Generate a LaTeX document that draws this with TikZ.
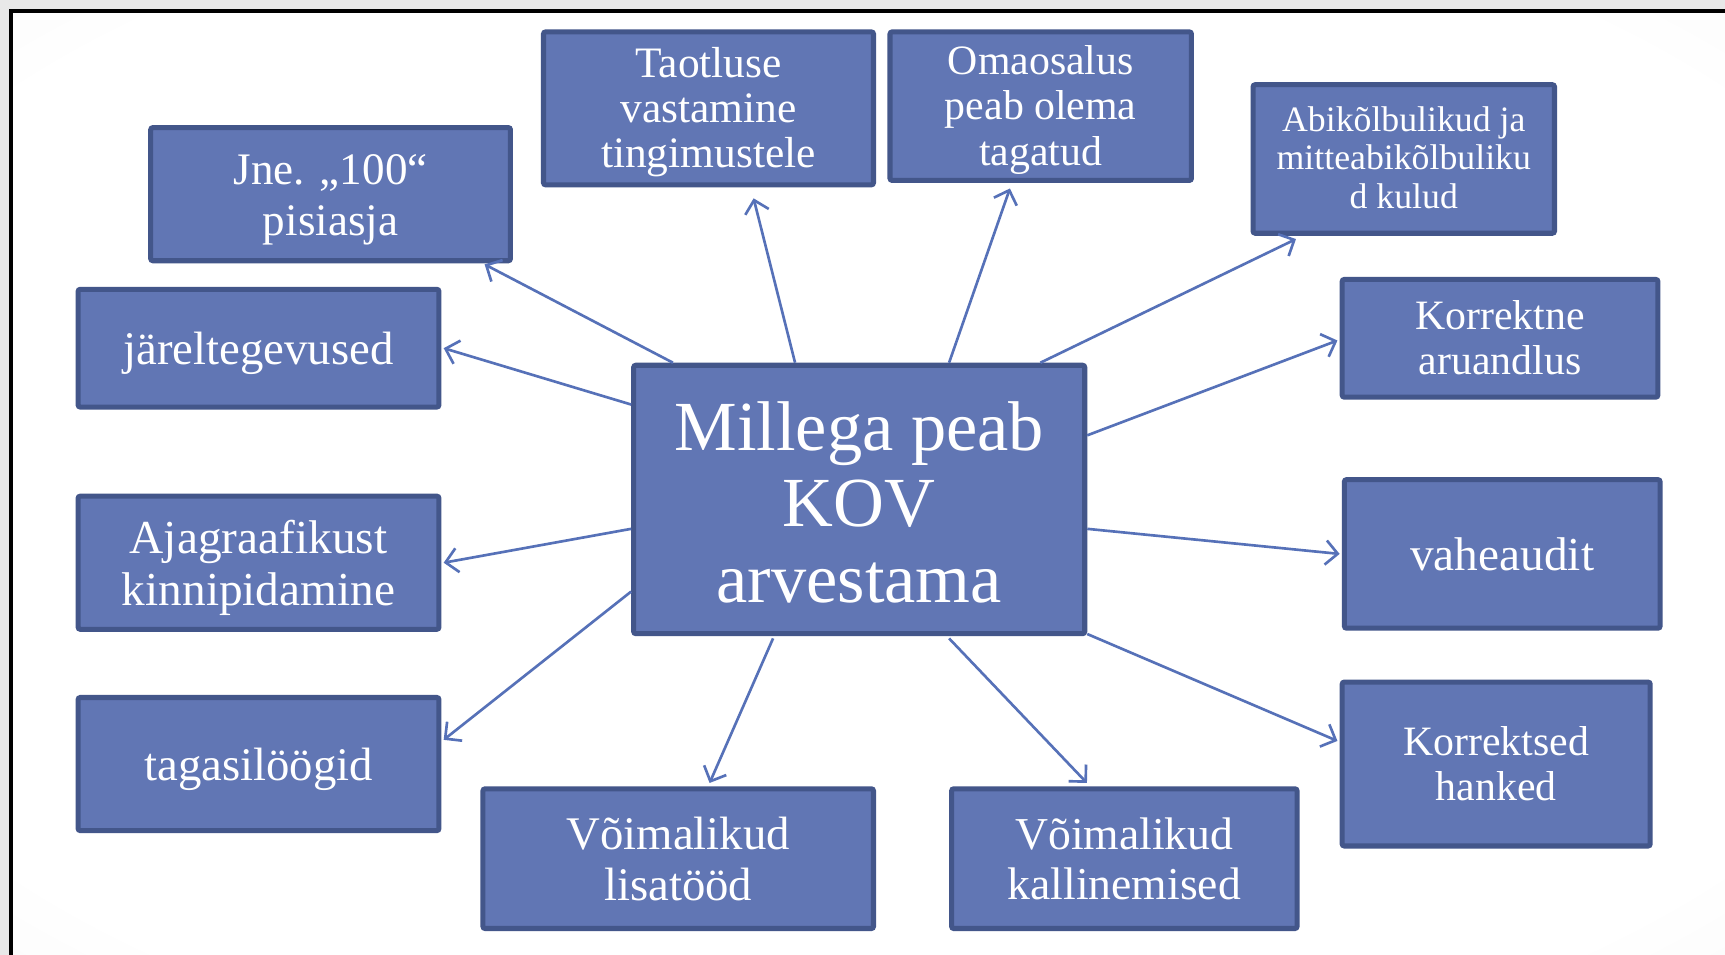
\documentclass[tikz,border=0pt]{standalone}
\usepackage{fontspec}
\setmainfont{Liberation Serif}
\usetikzlibrary{arrows.meta,calc}
\definecolor{boxfill}{HTML}{6176B4}
\definecolor{boxline}{HTML}{43568A}
\definecolor{arrowcol}{HTML}{5671B8}
\pgfdeclareradialshading{bgshade}{\pgfpoint{0bp}{0bp}}{color(0bp)=(white); color(32bp)=(white); color(72bp)=(black!13)}
\newcommand{\boxtext}[1]{\raisebox{\dimexpr-0.25em-1pt\relax}[0pt][0pt]{\begin{tabular}{@{}c@{}}#1\end{tabular}}}
\begin{document}
\begin{tikzpicture}[x=1pt,y=-1pt,
  box/.style={draw=boxline, fill=boxfill, line width=4.6pt, rounded corners=2pt, text=white, inner sep=0pt},
  ftiny/.style={font=\fontsize{32.5}{35}\selectfont},
  fsmall/.style={font=\fontsize{38}{41}\selectfont},
  fmed/.style={font=\fontsize{42.5}{46}\selectfont},
  fbig/.style={font=\fontsize{64}{69}\selectfont},
  arr/.style={draw=arrowcol, line width=2.4pt, -{Straight Barb[length=11pt,width=22pt]}}
]
\useasboundingbox (0,0) rectangle (1568,868);
\fill[black!9] (0,0) rectangle (1568,868);
\shade[shading=bgshade] (10,10) rectangle (1568,868);
\draw[black, line width=3pt] (10,868) -- (10,10) -- (1568,10);

\node[box, fbig, minimum width=410pt, minimum height=244pt] (c) at (781,454) {\boxtext{Millega peab\\KOV\\arvestama}};

\node[box, font=\fontsize{41}{46}\selectfont, minimum width=327pt, minimum height=121pt] (j) at (300.5,176.5) {\boxtext{Jne. „100“\\pisiasja}};
\node[box, font=\fontsize{39.5}{41}\selectfont, minimum width=300pt, minimum height=139pt] (t) at (644,98.5) {\boxtext{Taotluse\\vastamine\\tingimustele}};
\node[box, fsmall, minimum width=274pt, minimum height=135pt] (o) at (946,96.5) {\boxtext{Omaosalus\\peab olema\\tagatud}};
\node[box, ftiny, minimum width=274pt, minimum height=135pt] (a) at (1276,144.5) {\boxtext{Abikõlbulikud ja\\mitteabikõlbuliku\\d kulud}};
\node[box, fmed, minimum width=328pt, minimum height=107pt] (jr) at (235,316.5) {\boxtext{järeltegevused}};
\node[box, fsmall, minimum width=287pt, minimum height=107pt] (k) at (1363.5,307.5) {\boxtext{Korrektne\\aruandlus}};
\node[box, font=\fontsize{43}{47}\selectfont, minimum width=328pt, minimum height=121pt] (ag) at (235,511.5) {\boxtext{Ajagraafikust\\kinnipidamine}};
\node[box, font=\fontsize{43}{46}\selectfont, minimum width=287pt, minimum height=135pt] (v) at (1365.5,503.5) {\boxtext{vaheaudit}};
\node[box, fmed, minimum width=328pt, minimum height=121pt] (tg) at (235,694.5) {\boxtext{tagasilöögid}};
\node[box, fmed, minimum width=355pt, minimum height=127pt] (vl) at (616.5,780.5) {\boxtext{Võimalikud\\lisatööd}};
\node[box, font=\fontsize{41.5}{46}\selectfont, minimum width=314pt, minimum height=127pt] (vk) at (1022,780.5) {\boxtext{Võimalikud\\kallinemised}};
\node[box, fsmall, minimum width=280pt, minimum height=149pt] (kh) at (1360,694.5) {\boxtext{Korrektsed\\hanked}};

\draw[arr] ($(c.north west)+(38,0)$) -- ($(j.south)+(140,1)$);
\draw[arr] ($(c.north west)+(149,0)$) -- ($(t.south)+(41,10)$);
\draw[arr] ($(c.north west)+(289,0)$) -- ($(o.south)+(-28,5)$);
\draw[arr] ($(c.north west)+(372,0)$) -- ($(a.south)+(-98,3)$);
\draw[arr] ($(c.north west)+(0,38)$) -- ($(jr.east)+(2,0)$);
\draw[arr] ($(c.north east)+(0,66)$) -- ($(k.west)+(-2,2)$);
\draw[arr] ($(c.north west)+(0,151)$) -- ($(ag.east)+(2,0)$);
\draw[arr] ($(c.north east)+(0,151)$) -- ($(v.west)+(-2,0)$);
\draw[arr] ($(c.north west)+(0,208)$) -- ($(tg.east)+(2,-22)$);
\draw[arr] ($(c.south west)+(129,2)$) -- ($(vl.north)+(28.5,-3)$);
\draw[arr] ($(c.south west)+(289,2)$) -- ($(vk.north)+(-34,-3)$);
\draw[arr] ($(c.south east)+(0,-2)$) -- ($(kh.west)+(-2,-21)$);
\end{tikzpicture}
\end{document}
